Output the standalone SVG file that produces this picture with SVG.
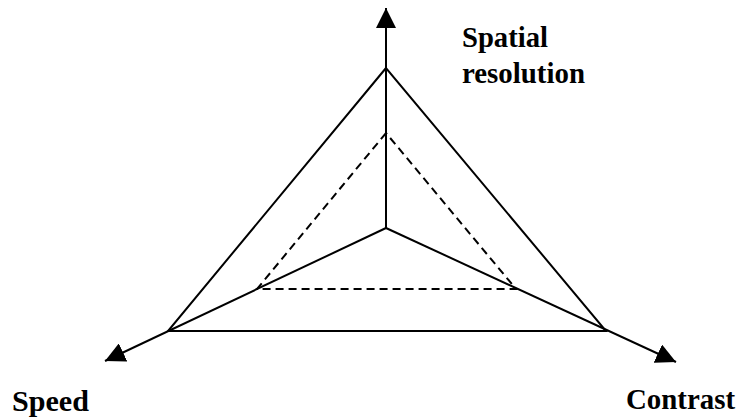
<svg xmlns="http://www.w3.org/2000/svg" width="738" height="419" viewBox="0 0 738 419">
<style>
.s{stroke:#000;stroke-width:2;fill:none}
.d{stroke:#000;stroke-width:2;fill:none;stroke-dasharray:8,5}
.t{font-family:"Liberation Serif",serif;font-weight:bold;font-size:29px;fill:#000}
</style>
<defs>
<marker id="ah" viewBox="0 0 20 20" refX="20" refY="10" markerWidth="20" markerHeight="20" markerUnits="userSpaceOnUse" orient="auto">
<path d="M0,0 L20,10 L0,20 Z" fill="#000"/>
</marker>
</defs>
<rect width="738" height="419" fill="#fff"/>
<g id="connectors">
<line class="s" x1="386" y1="228" x2="386" y2="8" marker-end="url(#ah)"/>
<line class="s" x1="386" y1="228" x2="105" y2="361" marker-end="url(#ah)"/>
<line class="s" x1="386" y1="228" x2="676" y2="362" marker-end="url(#ah)"/>
</g>
<g id="outer-triangle">
<polygon class="s" points="386,68 168,331 606,331"/>
</g>
<g id="inner-triangle">
<polygon class="d" points="386,133 257,289 516,289"/>
</g>
<g id="label-spatial">
<text class="t" x="462" y="47" textLength="86" lengthAdjust="spacingAndGlyphs">Spatial</text>
<text class="t" x="462" y="83" textLength="123" lengthAdjust="spacingAndGlyphs">resolution</text>
</g>
<g id="label-speed">
<text class="t" x="12" y="411" textLength="77" lengthAdjust="spacingAndGlyphs">Speed</text>
</g>
<g id="label-contrast">
<text class="t" x="626" y="409" textLength="109" lengthAdjust="spacingAndGlyphs">Contrast</text>
</g>
</svg>
